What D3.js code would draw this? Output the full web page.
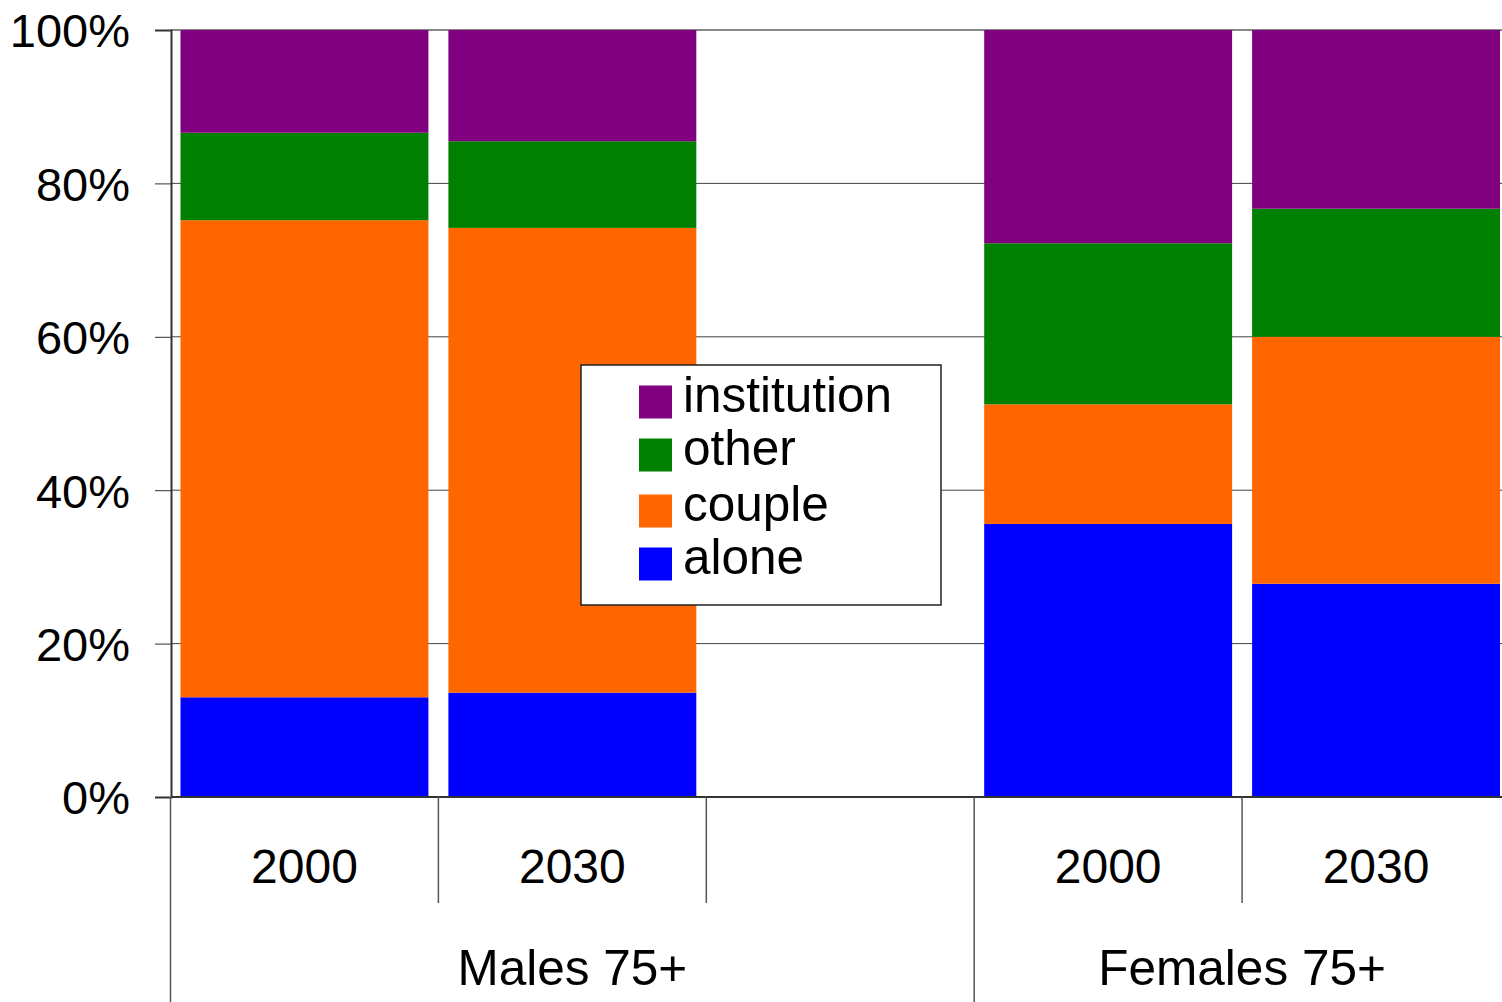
<!DOCTYPE html>
<html><head><meta charset="utf-8">
<script src="https://cdn.jsdelivr.net/npm/d3@7"></script>
<style>body{margin:0;background:#fff}svg{display:block}</style>
</head><body>
<svg id="chart" width="1502" height="1002"></svg>
<script>
const categories = ["M2000","M2030","Mgap","F2000","F2030"];
const yearLabels = ["2000","2030","","2000","2030"];
const groups = [{label:"Males 75+", from:0, to:2},{label:"Females 75+", from:3, to:4}];
const seriesNames = ["alone","couple","other","institution"];
const alone       = [13.0, 13.6, 0, 35.6, 27.8];
const couple      = [62.2, 60.6, 0, 15.6, 32.2];
const other       = [11.4, 11.3, 0, 21.0, 16.7];
const institution = [13.4, 14.5, 0, 27.8, 23.3];
const yTicks = [0,20,40,60,80,100];
const colors = {alone:"#0000FF", couple:"#FF6600", other:"#008000", institution:"#800080"};

const rows = categories.map((c,i)=>({cat:c, alone:alone[i], couple:couple[i], other:other[i], institution:institution[i]}));
const svg = d3.select("#chart");
const font = "'Liberation Sans', Arial, sans-serif";
const x = d3.scaleBand().domain(categories).range([170.5, 1510]).paddingInner(0.0746).paddingOuter(0.0373);
const step = x.step();
const y = d3.scaleLinear().domain([0,100]).range([797,30]);

// gridlines
svg.append("g").selectAll("line").data(yTicks.filter(t=>t>0&&t<100)).join("line")
  .attr("x1",171).attr("x2",1511).attr("y1",d=>y(d)).attr("y2",d=>y(d))
  .attr("stroke","#444").attr("stroke-width",1);
// top border
svg.append("line").attr("x1",171).attr("x2",1511).attr("y1",y(100)).attr("y2",y(100)).attr("stroke","#888").attr("stroke-width",2);

const stack = d3.stack().keys(seriesNames)(rows);
svg.append("g").selectAll("g").data(stack).join("g").attr("fill",d=>colors[d.key])
  .selectAll("rect").data(d=>d.filter(p=>p[1]-p[0]>0)).join("rect")
  .attr("x",d=>x(d.data.cat)).attr("width",x.bandwidth())
  .attr("y",d=>y(d[1])).attr("height",d=>y(d[0])-y(d[1]));

// y axis
const yAxis = d3.axisLeft(y).tickValues(yTicks).tickFormat(d=>d+"%").tickSize(16).tickPadding(25);
const ya = svg.append("g").attr("transform","translate(171,0)").call(yAxis);
ya.select(".domain").attr("stroke","#333").attr("stroke-width",2);
ya.selectAll(".tick line").attr("stroke","#333");
ya.selectAll("text").attr("font-family",font).attr("font-size",47).attr("fill","#000").attr("dy","0.36em");

// x axis line
svg.append("line").attr("x1",171).attr("x2",1511).attr("y1",797).attr("y2",797).attr("stroke","#333").attr("stroke-width",2);
// separators
const x0 = x.range()[0];
for (let i=0;i<=categories.length;i++){
  const sx = x0 + i*step;
  const isGroupEdge = groups.some(g=>g.from===i) || i===categories.length;
  svg.append("line").attr("x1",sx).attr("x2",sx).attr("y1",797).attr("y2",isGroupEdge?1002:903)
    .attr("stroke","#555").attr("stroke-width",1.5);
}
// year labels
svg.append("g").selectAll("text").data(categories).join("text")
  .attr("x",d=>x(d)+x.bandwidth()/2).attr("y",883).attr("text-anchor","middle")
  .attr("font-family",font).attr("font-size",48).text((d,i)=>yearLabels[i]);
// group labels
svg.append("g").selectAll("text").data(groups).join("text")
  .attr("x",g=>x0+(g.from*step + (g.to+1)*step)/2).attr("y",985).attr("text-anchor","middle")
  .attr("font-family",font).attr("font-size",49.5).text(g=>g.label);

// legend
const lg = svg.append("g");
lg.append("rect").attr("x",581).attr("y",365).attr("width",360).attr("height",240).attr("fill","#fff").attr("stroke","#222").attr("stroke-width",1.5);
const legendOrder = ["institution","other","couple","alone"];
const centers = [402,455,511,564];
legendOrder.forEach((k,i)=>{
  lg.append("rect").attr("x",639).attr("y",centers[i]-16.5).attr("width",33).attr("height",33).attr("fill",colors[k]);
  lg.append("text").attr("x",683).attr("y",centers[i]+10).attr("font-family",font).attr("font-size",49.5).text(k);
});
</script>
</body></html>
